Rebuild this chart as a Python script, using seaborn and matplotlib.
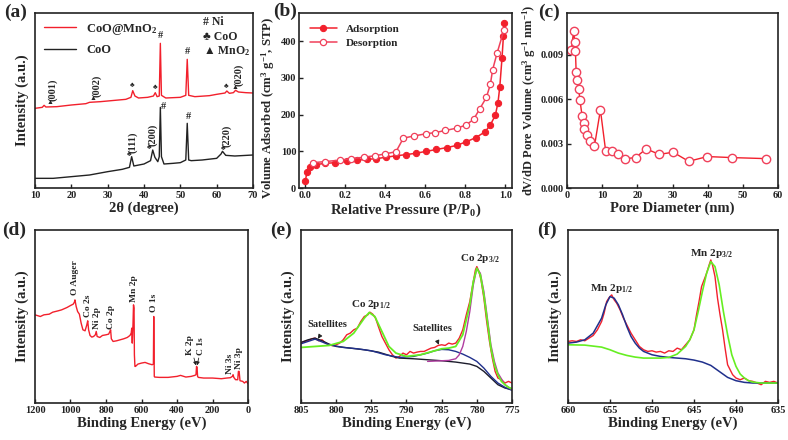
import matplotlib
matplotlib.use("Agg")
import matplotlib.pyplot as plt
import seaborn as sns

# ---------------- (a) XRD ----------------
xrd_2theta_mno2 = [10, 12, 12.5, 13, 16, 20, 24, 25, 28, 32, 35, 36.4, 36.9, 37.5, 38.5, 41, 42.6,
                   43.1, 43.6, 44.2, 44.5, 44.8, 46, 50, 51.5, 51.9, 52.3, 54, 58, 60, 62.3, 62.8,
                   63.5, 64.6, 65.2, 66, 68, 70]
xrd_int_mno2 = [245, 248, 254, 249, 250, 255, 259, 263, 265, 269, 272, 278, 298, 282, 276, 278, 282,
                292, 280, 282, 440, 284, 276, 278, 284, 392, 284, 280, 283, 287, 291, 297,
                290, 292, 299, 294, 292, 291]
xrd_2theta_coo = [10, 15, 20, 25, 30, 34, 36, 36.6, 37.2, 40, 41.8, 42.4, 43.0, 43.8, 44.2, 44.5,
                  44.8, 45.5, 48, 50, 51.5, 51.9, 52.3, 53, 56, 60, 61.2, 61.6, 62.5, 65, 70]
xrd_int_coo = [35, 35, 40, 45, 55, 62, 68, 100, 72, 78, 88, 120, 98, 85, 100, 248,
               100, 78, 80, 82, 90, 200, 90, 88, 90, 95, 108, 116, 104, 102, 105]
mno2_hkl = ['(001)', '(002)', '(020)']
mno2_hkl_x = [14.0, 26.0, 65.0]
mno2_hkl_y = [254, 266, 300]
coo_hkl = ['(111)', '(200)', '(220)']
coo_hkl_x = [35.9, 41.5, 61.8]
coo_hkl_y = [100, 120, 118]
coo_mark_x = [36.7, 43.0, 62.7]
coo_mark_y = [306, 300, 303]
ni_mark_x = [44.5, 51.9, 45.4, 52.3]
ni_mark_y = [450, 402, 236, 208]

# ---------------- (b) N2 isotherm ----------------
ads_p = [0.0, 0.008, 0.022, 0.055, 0.097, 0.147, 0.206, 0.256, 0.306, 0.355, 0.405, 0.455, 0.505,
         0.555, 0.605, 0.655, 0.706, 0.756, 0.804, 0.851, 0.898, 0.925, 0.95, 0.963, 0.972,
         0.983, 0.99, 0.993]
ads_v = [20, 44, 58, 64, 67, 69, 73, 76, 78, 80, 84, 88, 91, 95, 100, 105, 110, 116, 126, 137,
         153, 172, 199, 233, 276, 354, 413, 451]
des_p = [0.993, 0.958, 0.936, 0.925, 0.905, 0.871, 0.841, 0.801, 0.756, 0.70, 0.65, 0.604,
         0.545, 0.49, 0.453, 0.40, 0.348, 0.293, 0.229, 0.172, 0.099, 0.038]
des_v = [431, 367, 322, 283, 247, 215, 187, 171, 163, 157, 151, 148, 142, 136, 99, 93, 88, 84,
         80, 76, 72, 69]

# ---------------- (c) pore size distribution ----------------
pore_d = [1.2, 1.9, 2.2, 2.4, 2.6, 2.9, 3.3, 3.7, 4.3, 4.7, 4.8, 5.8, 6.6, 7.8, 9.5, 11.0, 12.8,
          14.5, 16.6, 19.5, 22.5, 26.2, 30.2, 34.6, 39.9, 47.0, 56.7]
pore_dv = [0.00928, 0.01059, 0.00986, 0.00923, 0.00782, 0.00727, 0.00669, 0.0059, 0.00484,
           0.00441, 0.00396, 0.00354, 0.00315, 0.00281, 0.00527, 0.00248, 0.00248, 0.00227,
           0.00198, 0.00205, 0.00264, 0.00227, 0.00241, 0.0018, 0.00212, 0.00205, 0.00198]

# ---------------- (d) XPS survey ----------------
survey_be = [1200, 1170, 1150, 1120, 1100, 1070, 1050, 1020, 1000, 985, 978, 975, 968, 960, 950,
             940, 930, 918, 908, 903, 898, 890, 880, 870, 860, 855, 850, 835, 820, 800, 785, 778,
             774, 770, 760, 740, 720, 700, 680, 665, 658, 655, 652, 648, 645, 642, 640, 637, 634,
             620, 600, 580, 560, 540, 533, 531, 528, 526, 500, 450, 400, 380, 350, 320, 300, 293,
             290, 287, 284, 280, 250, 200, 150, 120, 100, 88, 84, 80, 70, 58, 54, 50, 45, 30, 20,
             10, 0]
survey_int = [270, 265, 270, 272, 278, 282, 285, 292, 298, 302, 308, 315, 295, 280, 272,
              245, 225, 222, 240, 252, 225, 208, 203, 205, 210, 220, 205, 202, 208, 210, 212, 220,
              225, 198, 190, 192, 195, 198, 202, 208, 215, 230, 185, 240, 300, 290, 150, 115, 115,
              122, 125, 127, 123, 120, 122, 265, 85, 83, 82, 82, 85, 88, 83, 85, 88, 90,
              115, 112, 85, 82, 80, 80, 78, 80, 81, 85, 90, 82, 75, 75, 100, 100, 72, 70, 65,
              70, 63]
survey_names = ['O Auger', 'Co 2s', 'Ni 2p', 'Co 2p', 'Mn 2p', 'O 1s', 'Ni 3s', 'Ni 3p']
survey_name_x = [975, 903, 853, 773, 641, 527, 100, 52]
survey_name_y = [330, 262, 228, 228, 308, 278, 92, 108]

# ---------------- (e) Co 2p ----------------
co_be = [805, 804.5, 804, 803.5, 803, 802.5, 802, 801.5, 801, 800.5, 800, 799.5, 799, 798.5, 798,
         797.5, 797, 796.5, 796, 795.5, 795.2, 794.8, 794.4, 794, 793.5, 793, 792.5, 792, 791.5,
         791, 790.5, 790, 789.5, 789, 788.5, 788, 787.5, 787, 786.5, 786, 785.5, 785, 784.5, 784,
         783.5, 783, 782.5, 782, 781.5, 781, 780.5, 780.2, 780, 779.7, 779.4, 779, 778.6, 778.2,
         777.8, 777.4, 777, 776.5, 776, 775.5, 775]
co_raw = [185, 190, 192, 198, 200, 192, 195, 185, 180, 177, 180, 185, 195, 210, 215,
          225, 230, 250, 265, 270, 278, 272, 260, 235, 205, 185, 165, 150, 140,
          145, 155, 150, 160, 155, 158, 160, 160, 165, 170, 172, 178, 180, 178, 185,
          182, 185, 200, 225, 270, 310, 370, 405, 415, 400, 375, 320, 250, 190,
          140, 100, 80, 75, 65, 70, 65]
co_env_be = [805, 803, 801, 799, 797.5, 796, 795.3, 794.5, 793.5, 792.5, 791.5, 790, 788, 786,
             785, 784, 783, 782, 781, 780.5, 780, 779.5, 779, 778.5, 778, 777.5, 777, 776.5, 776,
             775.5, 775]
co_env = [172, 175, 178, 190, 215, 260, 277, 265, 220, 175, 155, 145, 150, 162,
          168, 170, 175, 210, 300, 370, 410, 390, 330, 250, 170, 120, 90, 70, 60,
          52, 48]
co_bg_be = [805, 804, 803, 802, 801, 800, 798, 796, 794, 792, 791, 789, 787, 785, 783, 781, 780,
            779, 778, 777, 776, 775]
co_bg = [187, 195, 200, 192, 182, 175, 170, 165, 158, 145, 140, 138, 135, 132, 128, 122, 115,
         100, 80, 60, 50, 45]
co_sat_be = [805, 803, 801, 799, 797, 795, 793, 791, 789, 787, 786, 785, 784, 783, 782, 781, 780,
             779, 778, 777, 776, 775]
co_sat = [183, 197, 180, 172, 168, 162, 150, 142, 145, 155, 162, 166, 165, 160, 152, 142, 130,
          110, 85, 65, 52, 43]
co_p32_be = [787, 785, 784, 783, 782.5, 782, 781.5, 781, 780.5, 780, 779.5, 779, 778.5, 778,
             777.5, 777, 776, 775]
co_p32 = [130, 132, 133, 138, 150, 175, 220, 280, 360, 410, 395, 340, 260, 180,
          130, 95, 60, 45]

# ---------------- (f) Mn 2p ----------------
mn_be = [660, 659.5, 659, 658.5, 658, 657.5, 657, 656.5, 656, 655.7, 655.4, 655.1, 654.8, 654.5,
         654.2, 653.8, 653.4, 653, 652.5, 652, 651.5, 651, 650.5, 650, 649.5, 649, 648.5, 648,
         647.5, 647, 646.5, 646, 645.5, 645, 644.7, 644.4, 644.1, 643.8, 643.5, 643.2, 643,
         642.8, 642.5, 642.2, 641.9, 641.6, 641.3, 641, 640.7, 640.4, 640, 639.5, 639, 638.5,
         638, 637.5, 637, 636.5, 636, 635.5, 635]
mn_raw = [190, 192, 190, 195, 192, 200, 208, 225, 250, 275, 310, 322, 330, 315,
          305, 285, 260, 240, 215, 195, 175, 165, 160, 162, 158, 160, 155, 162,
          160, 170, 165, 180, 195, 225, 270, 310, 355, 375, 395, 420, 435,
          420, 385, 320, 270, 225, 170, 120, 105, 90, 80, 75, 80, 72,
          70, 65, 60, 70, 67, 70, 65]
mn_p12_be = [660, 659, 658, 657, 656, 655.5, 655, 654.5, 654, 653.5, 653, 652.5, 652, 651.5, 651,
             650, 649, 648, 647, 646, 645, 644, 643, 642, 641, 640, 639, 638, 636, 635]
mn_p12 = [185, 188, 195, 215, 260, 300, 325, 320, 300, 270, 235, 205, 185, 170, 160,
          150, 145, 142, 140, 138, 134, 128, 118, 100, 82, 72, 67, 65, 65, 65]
mn_p32_be = [660, 658, 656, 655, 654, 653, 652, 651, 650, 649, 648, 647, 646, 645.5, 645, 644.5,
             644, 643.5, 643, 642.5, 642, 641.5, 641, 640.5, 640, 639.5, 639, 638.5, 638, 637, 635]
mn_p32 = [180, 179, 173, 165, 155, 148, 143, 140, 140, 140, 142, 152, 175, 195, 225, 280,
          340, 395, 430, 415, 360, 280, 210, 150, 115, 92, 80, 72, 68, 65, 65]

RED = '#f2202c'
PINK = '#f0405a'

sns.set_style('ticks')
plt.rcParams.update({
    'font.family': ['Liberation Serif', 'DejaVu Serif'],
    'font.weight': 'bold',
    'axes.labelweight': 'bold',
    'mathtext.fontset': 'custom',
    'mathtext.rm': 'Liberation Serif:bold',
    'mathtext.it': 'Liberation Serif:bold:italic',
    'mathtext.bf': 'Liberation Serif:bold',
    'mathtext.default': 'regular',
    'xtick.direction': 'in',
    'ytick.direction': 'in',
    'axes.linewidth': 1.2,
    'axes.edgecolor': '#222222',
    'xtick.color': '#222222',
    'ytick.color': '#222222',
})

fig = plt.figure(figsize=(7.88, 4.40), dpi=100)


def rect(l, r, t, b):
    return [l / 788, 1 - b / 440, (r - l) / 788, (b - t) / 440]


def setup(ax, xlabel, ylabel, xlim, xticks, ylim, yticks=None, ysize=10.5):
    ax.set_xlim(*xlim)
    ax.set_ylim(*ylim)
    ax.set_xticks(xticks)
    if yticks is None:
        ax.set_yticks([])
        ax.set_ylabel(ylabel, fontsize=ysize, labelpad=4)
    else:
        ax.set_yticks(yticks)
        ax.set_ylabel(ylabel, fontsize=ysize, labelpad=2)
    ax.set_xlabel(xlabel, fontsize=10.5, labelpad=1)
    ax.tick_params(labelsize=7.5, length=3, width=1, pad=2)
    for lab in ax.get_xticklabels() + ax.get_yticklabels():
        lab.set_fontweight('bold')


ax_a = fig.add_axes(rect(35, 253, 13, 188))
ax_b = fig.add_axes(rect(299, 512, 13, 188))
ax_c = fig.add_axes(rect(567, 778, 13, 188))
ax_d = fig.add_axes(rect(35, 248, 230, 403))
ax_e = fig.add_axes(rect(301, 512, 230, 403))
ax_f = fig.add_axes(rect(568, 778, 230, 403))

# (a)
sns.lineplot(x=xrd_2theta_mno2, y=xrd_int_mno2, ax=ax_a, color=RED, lw=1.0, sort=False,
             estimator=None, label='CoO@MnO$_2$')
sns.lineplot(x=xrd_2theta_coo, y=xrd_int_coo, ax=ax_a, color='#222222', lw=1.0, sort=False,
             estimator=None, label='CoO')
setup(ax_a, '2θ (degree)', 'Intensity (a.u.)', (10, 70), range(10, 71, 10), (6, 531))
ax_a.legend(loc='upper left', frameon=False, fontsize=9, handlelength=2.6,
            borderaxespad=0.3, labelspacing=0.6)
for lab, x, y in zip(mno2_hkl, mno2_hkl_x, mno2_hkl_y):
    ax_a.text(x, y, '▲', fontsize=5, ha='center', va='bottom')
    ax_a.text(x + 1.0, y + 12, lab, fontsize=7.5, rotation=90, ha='center', va='bottom')
for lab, x, y in zip(coo_hkl, coo_hkl_x, coo_hkl_y):
    ax_a.text(x, y, '♣', fontsize=5, ha='center', va='bottom')
    ax_a.text(x + 1.0, y + 12, lab, fontsize=7.5, rotation=90, ha='center', va='bottom')
for x, y in zip(coo_mark_x, coo_mark_y):
    ax_a.text(x, y, '♣', fontsize=5, ha='center', va='bottom')
for x, y in zip(ni_mark_x, ni_mark_y):
    ax_a.text(x, y, '#', fontsize=7.5, ha='center', va='bottom')
ax_a.text(0.77, 0.95, '# Ni', transform=ax_a.transAxes, fontsize=8.5, va='center')
ax_a.text(0.77, 0.865, '♣ CoO', transform=ax_a.transAxes, fontsize=8.5, va='center')
ax_a.text(0.77, 0.78, '▲ MnO$_2$', transform=ax_a.transAxes, fontsize=8.5, va='center')

# (b)
sns.lineplot(x=ads_p, y=ads_v, ax=ax_b, color=RED, lw=1.1, sort=False, estimator=None,
             marker='o', markersize=4.5, markerfacecolor=RED, markeredgecolor=RED,
             label='Adsorption')
sns.lineplot(x=des_p, y=des_v, ax=ax_b, color=PINK, lw=1.1, sort=False, estimator=None,
             marker='o', markersize=4.5, markerfacecolor='white', markeredgecolor=PINK,
             markeredgewidth=0.9, label='Desorption')
setup(ax_b, 'Relative Pressure (P/P$_0$)', 'Volume Adsorbed (cm$^3$ g$^{-1}$, STP)',
      (-0.032, 1.033), [0, 0.2, 0.4, 0.6, 0.8, 1.0], (0, 477), [0, 100, 200, 300, 400],
      ysize=9.2)
ax_b.yaxis.set_label_coords(-0.105, 0.46)
ax_b.set_xticklabels(['0.0', '0.2', '0.4', '0.6', '0.8', '1.0'], fontweight='bold')
ax_b.legend(loc='upper left', frameon=False, fontsize=8, handlelength=2.4,
            borderaxespad=0.6, labelspacing=0.4)

# (c)
sns.lineplot(x=pore_d, y=pore_dv, ax=ax_c, color=RED, lw=1.0, sort=False, estimator=None,
             marker='o', markersize=6, markerfacecolor='white', markeredgecolor=PINK,
             markeredgewidth=1.0)
setup(ax_c, 'Pore Diameter (nm)', 'dV/dD Pore Volume (cm$^3$ g$^{-1}$ nm$^{-1}$)',
      (0, 60), range(0, 61, 10), (0, 0.0118), [0, 0.003, 0.006, 0.009], ysize=9)
ax_c.set_yticklabels(['0.000', '0.003', '0.006', '0.009'], fontweight='bold')

# (d)
sns.lineplot(x=survey_be, y=survey_int, ax=ax_d, color=RED, lw=1.0, sort=False, estimator=None)
setup(ax_d, 'Binding Energy (eV)', 'Intensity (a.u.)', (1200, 0), range(1200, -1, -200),
      (5, 525))
for lab, x, y in zip(survey_names, survey_name_x, survey_name_y):
    ax_d.text(x, y, lab, fontsize=6.8, rotation=90, ha='center', va='bottom')
arrow = dict(arrowstyle='-|>', lw=0.6, color='#222222', shrinkA=0, shrinkB=0, mutation_scale=5)
ax_d.annotate('K 2p', xy=(293, 118), xytext=(325, 150), fontsize=6.8, rotation=90,
              ha='center', va='bottom', arrowprops=arrow)
ax_d.annotate('C 1s', xy=(287, 118), xytext=(262, 150), fontsize=6.8, rotation=90,
              ha='center', va='bottom', arrowprops=arrow)

# (e)
sns.lineplot(x=co_be, y=co_raw, ax=ax_e, color=RED, lw=1.0, sort=False, estimator=None)
sns.lineplot(x=co_bg_be, y=co_bg, ax=ax_e, color='#1c1c2c', lw=1.0, sort=False, estimator=None)
sns.lineplot(x=co_sat_be, y=co_sat, ax=ax_e, color='#20308c', lw=1.0, sort=False,
             estimator=None)
sns.lineplot(x=co_p32_be, y=co_p32, ax=ax_e, color='#b03ca0', lw=1.0, sort=False,
             estimator=None)
sns.lineplot(x=co_env_be, y=co_env, ax=ax_e, color='#66ee22', lw=1.3, sort=False,
             estimator=None)
setup(ax_e, 'Binding Energy (eV)', 'Intensity (a.u.)', (805, 775), range(805, 774, -5), (5, 525))
ax_e.text(779.5, 440, 'Co 2p$_{3/2}$', fontsize=8, ha='center', va='center')
ax_e.text(795.0, 300, 'Co 2p$_{1/2}$', fontsize=8, ha='center', va='center')
sat_arrow = dict(arrowstyle='-|>', lw=0.7, color='#222222', shrinkA=4, shrinkB=0,
                 mutation_scale=6)
ax_e.annotate('Satellites', xy=(802.6, 198), xytext=(801.3, 240), fontsize=7.5,
              ha='center', va='center', arrowprops=sat_arrow)
ax_e.annotate('Satellites', xy=(785.4, 180), xytext=(786.3, 228), fontsize=7.5,
              ha='center', va='center', arrowprops=sat_arrow)

# (f)
sns.lineplot(x=mn_be, y=mn_raw, ax=ax_f, color=RED, lw=1.0, sort=False, estimator=None)
sns.lineplot(x=mn_p12_be, y=mn_p12, ax=ax_f, color='#20308c', lw=1.1, sort=False,
             estimator=None)
sns.lineplot(x=mn_p32_be, y=mn_p32, ax=ax_f, color='#66ee22', lw=1.2, sort=False,
             estimator=None)
setup(ax_f, 'Binding Energy (eV)', 'Intensity (a.u.)', (660, 635), range(660, 634, -5), (5, 525))
ax_f.text(654.8, 348, 'Mn 2p$_{1/2}$', fontsize=8, ha='center', va='center')
ax_f.text(642.9, 455, 'Mn 2p$_{3/2}$', fontsize=8, ha='center', va='center')

# panel letters
for lab, x, y in [('(a)', 4, 12), ('(b)', 273, 11), ('(c)', 538, 12),
                  ('(d)', 2, 230), ('(e)', 270, 230), ('(f)', 537, 230)]:
    fig.text(x / 788, 1 - y / 440, lab, fontsize=14, fontweight='bold', va='center', ha='left')

fig.savefig('out.png', dpi=100)
